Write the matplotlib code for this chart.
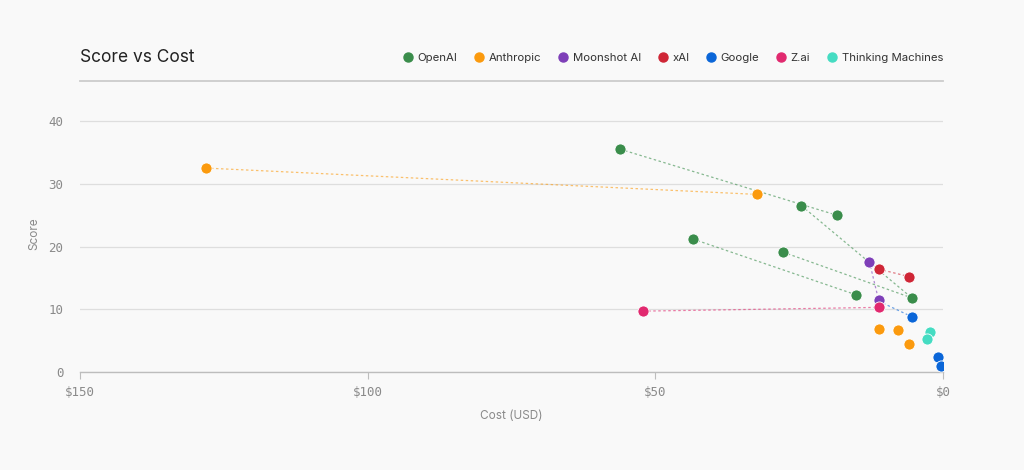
import matplotlib.pyplot as plt
from matplotlib.lines import Line2D

# data (cost in USD, score)
companies = ["OpenAI", "Anthropic", "Moonshot AI", "xAI", "Google", "Z.ai", "Thinking Machines"]
colors = ["#3a8d4b", "#fb9a0e", "#7e3fb8", "#cf2636", "#0b66d8", "#e1296f", "#45dcc2"]

openai_cost = [56.1, 24.6, 18.5, 43.5, 27.8, 15.1, 5.4]
openai_score = [35.5, 26.5, 25.0, 21.2, 19.1, 12.3, 11.8]
anthropic_cost = [128.1, 32.3, 11.1, 7.8, 5.9]
anthropic_score = [32.5, 28.3, 6.8, 6.7, 4.5]
moonshot_cost = [12.8, 11.2]
moonshot_score = [17.6, 11.5]
xai_cost = [11.2, 5.9]
xai_score = [16.4, 15.2]
google_cost = [11.2, 5.4, 0.87, 0.4]
google_score = [11.3, 8.8, 2.4, 0.96]
zai_cost = [52.1, 11.2]
zai_score = [9.7, 10.3]
tm_cost = [2.2, 2.7]
tm_score = [6.3, 5.3]

costs = [openai_cost, anthropic_cost, moonshot_cost, xai_cost, google_cost, zai_cost, tm_cost]
scores = [openai_score, anthropic_score, moonshot_score, xai_score, google_score, zai_score, tm_score]

# which points are joined by dotted lines (index pairs per company)
links = [
    [(0, 2), (1, 6), (3, 5), (4, 6)],
    [(0, 1)],
    [(0, 1)],
    [(0, 1)],
    [(0, 1)],
    [(0, 1)],
    [],
]

bg = "#f9f9f9"
plt.rcParams['font.family'] = ['Inter', 'DejaVu Sans']

fig = plt.figure(figsize=(10.24, 4.70), dpi=100, facecolor=bg)
ax = fig.add_axes([80 / 1024, 1 - 372 / 470, 863 / 1024, (372 - 95.9) / 470])
ax.set_facecolor(bg)

for i in range(len(companies)):
    for a, b in links[i]:
        ax.plot([costs[i][a], costs[i][b]], [scores[i][a], scores[i][b]],
                ls=(0, (2, 2)), lw=0.9, color=colors[i], alpha=0.6, zorder=2)

# google first so the hidden point sits under the others
order = [4, 0, 1, 3, 2, 5, 6]
for i in order:
    ax.scatter(costs[i], scores[i], s=64, color=colors[i], edgecolors="white",
               linewidths=0.6, zorder=3)

ax.set_xlim(150, 0)
ax.set_ylim(0, 44)
ax.set_xticks([150, 100, 50, 0])
ax.set_xticklabels(["$150", "$100", "$50", "$0"])
ax.set_yticks([0, 10, 20, 30, 40])
ax.grid(axis="y", color="#dedede", lw=0.9)
ax.set_axisbelow(True)
for s in ["top", "right", "left"]:
    ax.spines[s].set_visible(False)
ax.spines["bottom"].set_color("#bdbdbd")
ax.spines["bottom"].set_linewidth(1.0)
ax.tick_params(axis="x", length=5, color="#bdbdbd", pad=5)
ax.tick_params(axis="y", length=0, pad=12)
for lab in ax.get_xticklabels() + ax.get_yticklabels():
    lab.set_fontfamily("DejaVu Sans Mono")
    lab.set_fontsize(9)
    lab.set_color("#8a8a8a")

ax.set_xlabel("Cost (USD)", fontsize=8.5, color="#8a8a8a", labelpad=8)
ax.set_ylabel("Score", fontsize=8.5, color="#8a8a8a", labelpad=6)

fig.text(80 / 1024, 1 - 58 / 470, "Score vs Cost", fontsize=12.5, color="#222222",
         va="center", ha="left")
fig.add_artist(Line2D([80 / 1024, 943 / 1024], [1 - 81 / 470, 1 - 81 / 470],
                      color="#cccccc", lw=1.3))

handles = [Line2D([], [], marker="o", ls="", markersize=6.5, color=c) for c in colors]
fig.legend(handles, companies, loc="center right", bbox_to_anchor=(943 / 1024, 1 - 58 / 470),
           ncol=7, frameon=False, handlelength=0.8, handletextpad=0.45, columnspacing=1.5,
           borderaxespad=0, borderpad=0, fontsize=8.2, labelcolor="#333333")

fig.savefig("out.png", dpi=100, facecolor=bg)
